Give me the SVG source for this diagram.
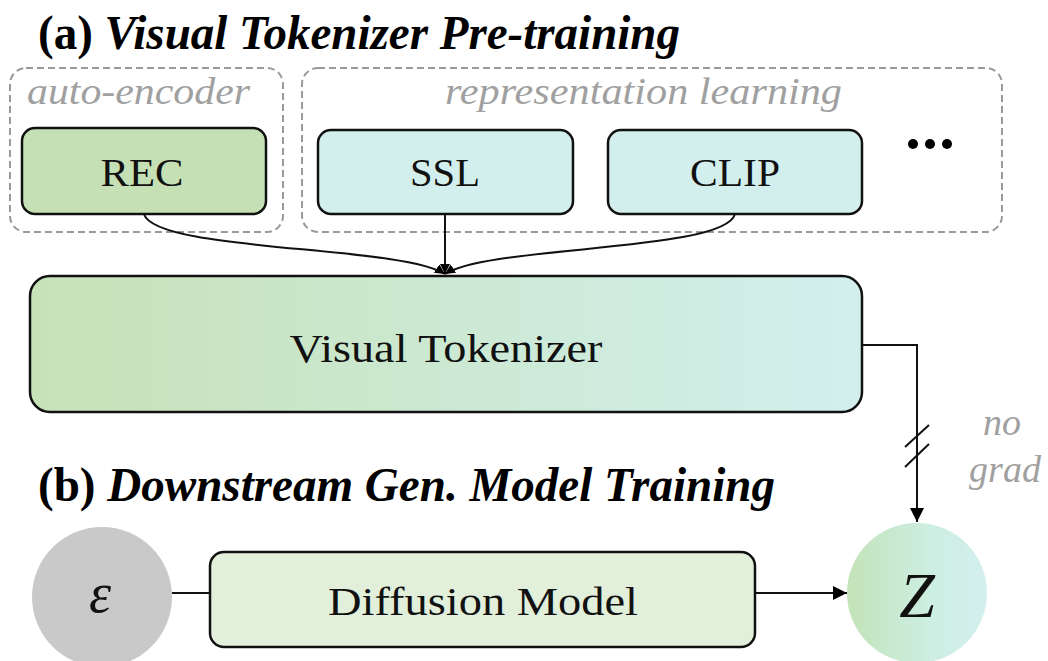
<svg xmlns="http://www.w3.org/2000/svg" width="1048" height="661" viewBox="0 0 1048 661">
<defs>
<linearGradient id="gvt" x1="0" y1="0" x2="1" y2="0">
<stop offset="0" stop-color="#c6e2b7"/>
<stop offset="1" stop-color="#d2efee"/>
</linearGradient>
<linearGradient id="gz" x1="0" y1="0" x2="1" y2="0">
<stop offset="0" stop-color="#c3e3b8"/>
<stop offset="0.6" stop-color="#cdeee2"/>
<stop offset="1" stop-color="#d4efee"/>
</linearGradient>
<marker id="ah" viewBox="0 0 10 10" refX="10" refY="5" markerWidth="10" markerHeight="10" markerUnits="userSpaceOnUse" orient="auto">
<path d="M0,0 L10,5 L0,10 z" fill="#000"/>
</marker>
<marker id="ahb" viewBox="0 0 10 10" refX="10" refY="5" markerWidth="14" markerHeight="14" markerUnits="userSpaceOnUse" orient="auto">
<path d="M0,0 L10,5 L0,10 z" fill="#000"/>
</marker>
</defs>
<style>
.title{font-family:"Liberation Serif",serif;font-weight:bold;font-size:48px;fill:#000}
.grp{fill:none;stroke:#9a9a9a;stroke-width:2;stroke-dasharray:7 4}
.glab{font-family:"Liberation Serif",serif;font-style:italic;font-size:38px;fill:#a0a0a0}
.box{stroke:#111;stroke-width:2.5}
.lab{font-family:"Liberation Serif",serif;font-size:41px;fill:#111;text-anchor:middle}
.con{fill:none;stroke:#111;stroke-width:2}
</style>
<rect width="1048" height="661" fill="#fff"/>
<text class="title" x="38" y="49" textLength="642" lengthAdjust="spacingAndGlyphs">(a) <tspan font-style="italic">Visual Tokenizer Pre-training</tspan></text>
<text class="title" x="38" y="501" textLength="737" lengthAdjust="spacingAndGlyphs">(b) <tspan font-style="italic">Downstream Gen. Model Training</tspan></text>

<g id="grp-auto">
<rect class="grp" x="10" y="68" width="273" height="164" rx="16"/>
<text class="glab" x="27" y="104" textLength="223" lengthAdjust="spacingAndGlyphs">auto-encoder</text>
</g>
<g id="grp-rep">
<rect class="grp" x="302" y="68" width="700" height="164" rx="16"/>
<text class="glab" x="445" y="104" textLength="397" lengthAdjust="spacingAndGlyphs">representation learning</text>
</g>

<g id="rec">
<rect class="box" x="22" y="128" width="244" height="86" rx="13" fill="#c5e0b4"/>
<text class="lab" x="142" y="186" textLength="83" lengthAdjust="spacingAndGlyphs">REC</text>
</g>
<g id="ssl">
<rect class="box" x="318" y="130" width="255" height="84" rx="13" fill="#d3efed"/>
<text class="lab" x="445" y="186" textLength="70" lengthAdjust="spacingAndGlyphs">SSL</text>
</g>
<g id="clip">
<rect class="box" x="608" y="130" width="254" height="84" rx="13" fill="#d3efed"/>
<text class="lab" x="735" y="186" textLength="90" lengthAdjust="spacingAndGlyphs">CLIP</text>
</g>
<g id="dots">
<circle cx="913" cy="144" r="5" fill="#000"/>
<circle cx="930" cy="144" r="5" fill="#000"/>
<circle cx="947" cy="144" r="5" fill="#000"/>
</g>

<g id="vt">
<rect class="box" x="30" y="276" width="832" height="136" rx="20" fill="url(#gvt)"/>
<text class="lab" x="446" y="362" font-size="48" textLength="313" lengthAdjust="spacingAndGlyphs">Visual Tokenizer</text>
</g>

<g id="eps">
<circle cx="102" cy="597" r="70" fill="#c9c9c9"/>
<text x="100" y="612" font-family="'Liberation Serif',serif" font-style="italic" font-size="56" text-anchor="middle" fill="#111">ε</text>
</g>
<g id="diff">
<rect class="box" x="210" y="552" width="545" height="95" rx="14" fill="#e2efda"/>
<text class="lab" x="483" y="615" font-size="45" textLength="310" lengthAdjust="spacingAndGlyphs">Diffusion Model</text>
</g>
<g id="z">
<circle cx="917" cy="593" r="70" fill="url(#gz)"/>
<text x="917" y="617" font-family="'Liberation Serif',serif" font-style="italic" font-size="64" text-anchor="middle" fill="#111">Z</text>
</g>

<g id="nograd">
<text class="glab" x="1002" y="435" text-anchor="middle" font-size="40">no</text>
<text class="glab" x="1005" y="482" text-anchor="middle" font-size="40">grad</text>
</g>

<g id="connectors">
<path class="con" d="M445,214 L445,274" marker-end="url(#ah)"/>
<path class="con" d="M144,214 C155,252 400,245 445,274" marker-end="url(#ah)"/>
<path class="con" d="M735,214 C725,252 490,245 445,274" marker-end="url(#ah)"/>
<path class="con" d="M862,345 L917,345 L917,522" marker-end="url(#ahb)"/>
<line class="con" x1="905" y1="447" x2="929" y2="425"/>
<line class="con" x1="905" y1="467" x2="929" y2="444"/>
<line class="con" x1="172" y1="593" x2="210" y2="593"/>
<path class="con" d="M755,593 L847,593" marker-end="url(#ahb)"/>
</g>
</svg>
